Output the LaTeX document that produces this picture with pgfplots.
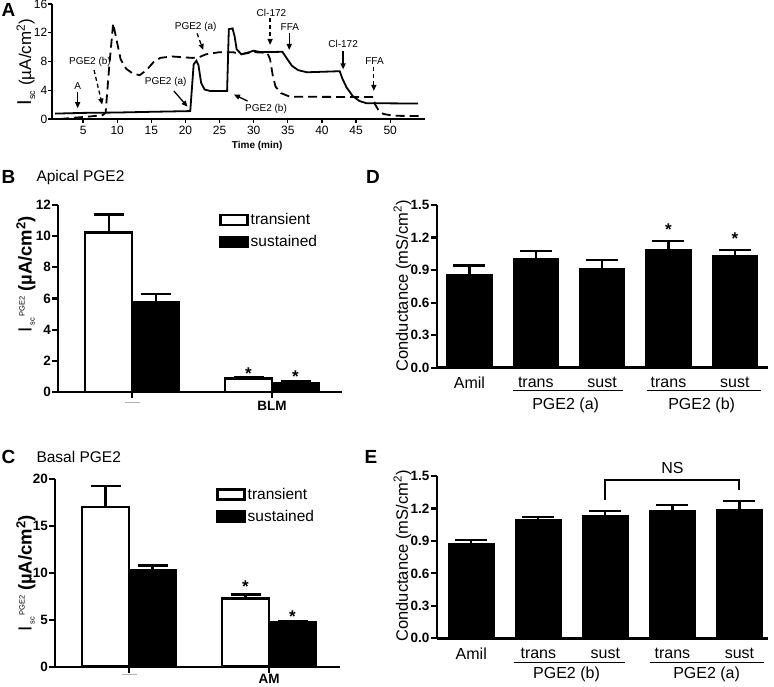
\documentclass[border=0pt]{standalone}
\usepackage{pgfplots}
\pgfplotsset{compat=1.18}
\usepackage{fontspec}
\setmainfont{Liberation Sans}
\usetikzlibrary{arrows.meta}
\newcommand{\fs}[1]{\fontsize{#1}{#1}\selectfont}
\tikzset{star/.style={font=\bfseries\fs{17}, anchor=base}}
\pgfplotsset{
  gp/.style={scale only axis, anchor=south west, clip=false,
    axis x line*=bottom, axis y line*=left,
    axis line style={line width=2.4pt},
    tick align=outside, major tick length=6pt,
    tick style={line width=2.2pt, black},
    yticklabel style={inner xsep=1pt},
    /pgf/number format/assume math mode=true},
  barT/.style={fill=white, draw=black, line width=2.5pt,
    error bars/.cd, y dir=plus, y explicit,
    error bar style={line width=2.2pt, black},
    error mark options={rotate=90, line width=2.2pt, mark size=15pt, black}},
  barS/.style={fill=black, draw=black, line width=2.5pt,
    error bars/.cd, y dir=plus, y explicit,
    error bar style={line width=2.2pt, black},
    error mark options={rotate=90, line width=2.2pt, mark size=15pt, black}},
  barD/.style={fill=black, draw=black, line width=1pt,
    error bars/.cd, y dir=plus, y explicit,
    error bar style={line width=2.2pt, black},
    error mark options={rotate=90, line width=2.2pt, mark size=16pt, black}},
  legB/.style={legend style={draw=none, fill=none, inner sep=0pt, font=\fs{15.5}, row sep=5pt,
    /tikz/every even column/.append style={column sep=2pt}},
    legend cell align=left,
    legend image code/.code={\draw[##1] (0pt,-5pt) rectangle (27pt,5pt);}},
}
\newcommand{\isclab}{{\fs{19}I}\hspace{1.5pt}{\fs{7.5}\raisebox{-3pt}{sc}\hspace{1pt}\raisebox{7pt}{PGE2}}\hspace{5pt}{\bfseries\fs{18.5}(µA/cm\textsuperscript{2})}}
\begin{document}
\begin{tikzpicture}[x=1pt,y=1pt]
\path[use as bounding box] (0,0) rectangle (774,686);
% panel letters and titles
\node[font=\bfseries\fs{19}] at (8.5,676) {A};
\node[font=\bfseries\fs{19}] at (8.5,509) {B};
\node[font=\fs{15.5}, anchor=west] at (33,509) {Apical PGE2};
\node[font=\bfseries\fs{19}] at (8.5,229) {C};
\node[font=\fs{15.5}, anchor=west] at (33,229) {Basal PGE2};
\node[font=\bfseries\fs{19}] at (373,509) {D};
\node[font=\bfseries\fs{19}] at (371,229) {E};
% y labels
\node[rotate=90] at (26,624) {{\fs{20}I}{\fs{9}\raisebox{-4pt}{sc}}\hspace{5pt}{\fs{17}(µA/cm\textsuperscript{2})}};
\node[rotate=90] at (26,412) {\isclab};
\node[rotate=90] at (26,113) {\isclab};
\node[rotate=90, font=\fs{16.5}] at (402.5,400) {Conductance (mS/cm\textsuperscript{2})};
\node[rotate=90, font=\fs{16.5}] at (402.5,130) {Conductance (mS/cm\textsuperscript{2})};

% ---------------- Panel A
\begin{axis}[scale only axis, anchor=south west, clip=false,
  at={(52pt,567pt)}, width=373pt, height=115pt,
  xmin=0.44, xmax=55.1, ymin=0, ymax=16,
  axis x line*=bottom, axis y line*=left,
  axis line style={line width=1.5pt},
  tick align=outside, major tick length=4pt,
  tick style={line width=1.3pt, black},
  /pgf/number format/assume math mode=true,
  xtick={5,10,...,50}, ytick={0,4,8,12,16},
  tick label style={font=\fs{12}},
  yticklabel style={inner xsep=0.5pt},
  xlabel={Time (min)},
  xlabel style={font=\bfseries\fs{10}, at={(axis description cs:0.55,0)}, anchor=center, yshift=-27pt},
]
\addplot[black, line width=1.8pt] coordinates {
(0.9,0.75) (5,0.85) (10,0.9) (15,1.0) (20.7,1.1) (21.2,7.6) (21.6,8.1) (21.9,7.5)
(22.3,5.0) (22.8,4.1) (23.6,3.9) (26.1,3.9) (26.35,12.5) (26.9,12.6) (27.2,11.5)
(27.5,9.7) (28.2,9.0) (29,9.2) (30,9.5) (31,9.3) (34.2,9.35) (34.8,8.5) (35.6,7.4)
(36.5,6.8) (37.8,6.5) (42.6,6.65) (43,5.6) (43.6,4.4) (44.5,3.2) (45.5,2.5) (46.5,2.2) (54.1,2.15)};
\addplot[black, line width=1.8pt, dash pattern=on 9pt off 5pt] coordinates {
(1.6,0.0) (4,0.2) (6,0.35) (7.9,0.55) (8.3,0.9) (8.8,7) (9.4,13.3) (9.9,11) (10.5,8.3)
(11.3,7) (12.3,6.3) (13.3,6.1) (14.3,6.8) (15.3,7.9) (16.3,8.5) (18,8.7) (21,8.5) (22,8.6)
(23,9.0) (25,9.3) (27,9.3) (28,9.0) (30,9.3) (32,9.2) (32.4,8.3) (32.8,6.0) (33.2,4.5)
(34,3.6) (35.3,3.1) (47.5,3.05) (47.8,2.0) (48.3,1.2) (49,0.7) (50.5,0.45) (54.5,0.4)};
% annotations
\begin{scope}[font=\fs{10}]
\node at (axis cs:4.2,4.6) {A};
\draw[line width=1.3pt, -{Triangle[length=6pt,width=5pt]}] (axis cs:4.2,3.8) -- (axis cs:4.2,1.5);
\node at (axis cs:6.0,8.0) {PGE2 (b)};
\draw[line width=1.3pt, dash pattern=on 4pt off 3pt, -{Triangle[length=6pt,width=5pt]}] (axis cs:6.6,6.8) -- (axis cs:7.8,2.0);
\node at (axis cs:17.1,5.2) {PGE2 (a)};
\draw[line width=1.3pt, -{Triangle[length=6pt,width=5pt]}] (axis cs:18.3,3.9) -- (axis cs:20.3,1.7);
\node at (axis cs:21.5,12.85) {PGE2 (a)};
\draw[line width=1.3pt, dash pattern=on 4pt off 3pt, -{Triangle[length=6pt,width=5pt]}] (axis cs:21.7,11.9) -- (axis cs:22.6,9.6);
\node at (axis cs:31.8,1.35) {PGE2 (b)};
\draw[line width=1.3pt, -{Triangle[length=6pt,width=5pt]}] (axis cs:29.1,2.5) -- (axis cs:27.1,3.4);
\node at (axis cs:32.6,14.8) {Cl-172};
\draw[line width=1.3pt, dash pattern=on 4pt off 3pt, -{Triangle[length=6pt,width=5pt]}] (axis cs:32.4,14.0) -- (axis cs:32.4,10.3);
\node at (axis cs:35.3,12.75) {FFA};
\draw[line width=1.3pt, -{Triangle[length=6pt,width=5pt]}] (axis cs:35.2,12.0) -- (axis cs:35.2,9.6);
\node at (axis cs:43.1,10.4) {Cl-172};
\draw[line width=1.3pt, -{Triangle[length=6pt,width=5pt]}] (axis cs:43.1,9.5) -- (axis cs:43.1,6.9);
\node at (axis cs:47.7,8.0) {FFA};
\draw[line width=1.3pt, dash pattern=on 4pt off 3pt, -{Triangle[length=6pt,width=5pt]}] (axis cs:47.6,7.2) -- (axis cs:47.6,3.9);
\end{scope}
\end{axis}

% ---------------- Panel B
\begin{axis}[gp, at={(58pt,294pt)}, width=284pt, height=187pt,
  xmin=-0.53, xmax=1.5, ymin=0, ymax=12,
  ybar=0pt, bar width=47pt, legB,
  xtick={0,1}, xticklabels={{\textcolor{gray!60}{\rule[3pt]{15pt}{1.5pt}}},BLM},
  ytick={0,2,...,12},
  tick label style={font=\bfseries\fs{13.5}},
  legend style={at={(axis description cs:0.567,0.965)}, anchor=north west},
]
\addplot[barT] coordinates {(0,10.24) +- (0,1.15) (1,0.88) +- (0,0.1)};
\addplot[barS] coordinates {(0,5.75) +- (0,0.55) (1,0.55) +- (0,0.15)};
\legend{transient, sustained}
\node[star, xshift=-23.5pt] at (axis cs:1,0.83) {*};
\node[star, xshift=23.5pt] at (axis cs:1,0.64) {*};
\end{axis}

% ---------------- Panel C
\begin{axis}[gp, at={(55pt,19.3pt)}, width=285pt, height=187.4pt,
  xmin=-0.529, xmax=1.507, ymin=0, ymax=20,
  ybar=0pt, bar width=47pt, legB,
  xtick={0,1}, xticklabels={{\textcolor{gray!60}{\rule[3pt]{15pt}{1.5pt}}},AM},
  xticklabel style={yshift=2.5pt},
  ytick={0,5,...,20},
  tick label style={font=\bfseries\fs{13.5}},
  legend style={at={(axis description cs:0.565,0.964)}, anchor=north west},
]
\addplot[barT] coordinates {(0,17.05) +- (0,2.25) (1,7.3) +- (0,0.4)};
\addplot[barS] coordinates {(0,10.25) +- (0,0.55) (1,4.7) +- (0,0.15)};
\legend{transient, sustained}
\node[star, xshift=-23.5pt] at (axis cs:1,7.9) {*};
\node[star, xshift=23.5pt] at (axis cs:1,4.75) {*};
\end{axis}

% ---------------- Panel D
\begin{axis}[gp, at={(436.7pt,318.3pt)}, width=331.3pt, height=162.7pt,
  xmin=-0.494, xmax=4.5, ymin=0, ymax=1.5,
  ybar, bar width=45.5pt,
  xtick={0,1,2,3,4}, xticklabels={Amil,trans,sust,trans,sust},
  xtick style={draw=none},
  ytick={0,0.3,0.6,0.9,1.2,1.5},
  yticklabel style={font=\bfseries\fs{13.5}, /pgf/number format/.cd, fixed, fixed zerofill, precision=1},
  xticklabel style={font=\fs{16}},
]
\addplot[barD] coordinates {(0,0.855) +- (0,0.087) (1,1.008) +- (0,0.071) (2,0.913) +- (0,0.077) (3,1.094) +- (0,0.074) (4,1.034) +- (0,0.048)};
\node[star] at (axis cs:3,1.215) {*};
\node[star] at (axis cs:4,1.135) {*};
\draw[line width=1.3pt] ([yshift=-23pt]axis cs:0.66,0) -- ([yshift=-23pt]axis cs:2.32,0);
\draw[line width=1.3pt] ([yshift=-23pt]axis cs:2.67,0) -- ([yshift=-23pt]axis cs:4.4,0);
\node[font=\fs{16}] at ([yshift=-38pt]axis cs:1.45,0) {PGE2 (a)};
\node[font=\fs{16}] at ([yshift=-38pt]axis cs:3.5,0) {PGE2 (b)};
\end{axis}

% ---------------- Panel E
\begin{axis}[gp, at={(436.7pt,47.7pt)}, width=331.6pt, height=162.3pt,
  xmin=-0.516, xmax=4.43, ymin=0, ymax=1.5,
  ybar, bar width=46pt,
  xtick={0,1,2,3,4}, xticklabels={Amil,trans,sust,trans,sust},
  xtick style={draw=none},
  ytick={0,0.3,0.6,0.9,1.2,1.5},
  yticklabel style={font=\bfseries\fs{13.5}, /pgf/number format/.cd, fixed, fixed zerofill, precision=1},
  xticklabel style={font=\fs{16}},
]
\addplot[barD] coordinates {(0,0.872) +- (0,0.034) (1,1.10) +- (0,0.024) (2,1.133) +- (0,0.047) (3,1.18) +- (0,0.049) (4,1.192) +- (0,0.077)};
\draw[line width=2pt] (axis cs:2,1.28) -- (axis cs:2,1.463) -- (axis cs:4,1.463) -- (axis cs:4,1.37);
\node[font=\fs{16}] at (axis cs:3,1.57) {NS};
\draw[line width=1.3pt] ([yshift=-24pt]axis cs:0.63,0) -- ([yshift=-24pt]axis cs:2.29,0);
\draw[line width=1.3pt] ([yshift=-24pt]axis cs:2.67,0) -- ([yshift=-24pt]axis cs:4.36,0);
\node[font=\fs{16}] at ([yshift=-36pt]axis cs:1.42,0) {PGE2 (b)};
\node[font=\fs{16}] at ([yshift=-36pt]axis cs:3.51,0) {PGE2 (a)};
\end{axis}
\end{tikzpicture}
\end{document}
